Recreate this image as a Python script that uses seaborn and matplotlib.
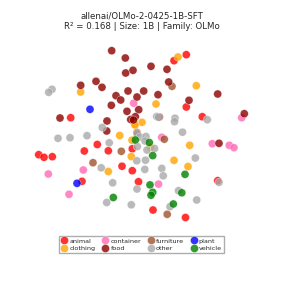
import matplotlib
matplotlib.use("Agg")
import matplotlib.pyplot as plt
import numpy as np
import pandas as pd
import seaborn as sns

sns.set_style("white")

# Embedding coordinates, one list per category
animal_x = [186.3, 174, 186.3, 202.3, 70.7, 97.3, 84.3, 108.3, 132.3, 38.7, 44, 52.3, 122, 132.3, 82, 138.5, 153, 185.5, 217.7]
animal_y = [54.7, 60.7, 107, 116.7, 117.7, 144.5, 151, 150.8, 148.8, 154.7, 157.3, 156.7, 166.2, 170.7, 181.3, 181.7, 210, 217.5, 180.7]

clothing_x = [178, 196.3, 80.7, 156, 142, 134.7, 119.7, 135, 132, 189.7, 131.3, 174, 188, 108.3, 150.5]
clothing_y = [57, 85.7, 92, 104, 122.3, 124.2, 135.5, 125, 140.2, 145.3, 156.5, 160.3, 166.5, 171.5, 147.3]

container_x = [133.7, 161.7, 212.3, 229.3, 234, 241.7, 83.3, 48.3, 69, 158.5]
container_y = [103.2, 137.3, 143.7, 145.3, 147.7, 117.7, 170, 174, 194.3, 184.1]

furniture_x = [172, 164.3, 121.3, 93, 167.2, 137]
furniture_y = [86.3, 139.2, 151.3, 162.7, 214.3, 132.5]

food_x = [111.7, 125.3, 151, 167, 125.7, 133, 80.7, 96, 102, 168.7, 217.7, 158, 128, 143.7, 116, 120.7,
          137, 111.3, 189, 127, 138.7, 135.3, 130.7, 107, 106.7, 60, 244.3, 219, 159.3, 133.5]
food_y = [50.7, 58, 66.3, 69.3, 73, 70.3, 85.3, 81.3, 87.3, 82, 94, 94.7, 91, 91, 95.7, 100,
          97, 105.3, 100.3, 111.3, 109.7, 116.7, 119.5, 121, 131, 118, 113.7, 143.3, 117, 120]

other_x = [52, 48.7, 156.7, 158.5, 175, 174.5, 207.3, 102.3, 182.5, 58, 70, 87, 109.2, 137, 140, 146, 145,
           137.3, 147, 154.5, 195.3, 136.8, 145.5, 101.2, 144.8, 161.8, 163.2, 112.7, 137, 178.5, 106.7,
           131.3, 170, 196.7, 219]
other_y = [89.3, 92.3, 116.5, 117.2, 118.2, 121.7, 119.7, 127.5, 132.2, 138.3, 137.7, 135.7, 142.8, 133.5, 137, 136.5, 141,
           146.5, 150, 148.5, 158, 160.8, 160.2, 167.8, 169.4, 168.4, 175.8, 182.8, 189, 190.7, 202.5,
           204.8, 206.7, 200, 182.3]

plant_x = [90, 77]
plant_y = [109.3, 183.3]

vehicle_x = [135.3, 149.3, 152.7, 185, 150, 152.7, 151, 181.8, 113.3, 173.3]
vehicle_y = [140, 142.5, 155.6, 174.3, 184.9, 192.3, 195.2, 192.8, 197.5, 204]

categories = ["animal", "clothing", "container", "furniture", "food", "other", "plant", "vehicle"]
colors = ["red", "orange", "hotpink", "sienna", "darkred", "darkgray", "blue", "green"]

xs = [animal_x, clothing_x, container_x, furniture_x, food_x, other_x, plant_x, vehicle_x]
ys = [animal_y, clothing_y, container_y, furniture_y, food_y, other_y, plant_y, vehicle_y]

frames = []
for cat, x, y in zip(categories, xs, ys):
    frames.append(pd.DataFrame({"x": x, "y": y, "category": cat}))
df = pd.concat(frames, ignore_index=True)

# legend goes alphabetically, column by column
legend_order = ["animal", "clothing", "container", "food", "furniture", "other", "plant", "vehicle"]
palette = dict(zip(categories, colors))

fig = plt.figure(figsize=(2.83, 2.83), dpi=100)
ax = fig.add_axes([0, 0, 1, 1])
sns.scatterplot(data=df, x="x", y="y", hue="category", hue_order=legend_order,
                palette=palette, s=34, alpha=0.8, edgecolor="white", linewidth=0.3,
                ax=ax, legend=True)
ax.set_xlim(0, 283)
ax.set_ylim(283, 0)
ax.axis("off")

fig.text(0.5, 1 - 21.5 / 283, "allenai/OLMo-2-0425-1B-SFT\nR² = 0.168 | Size: 1B | Family: OLMo",
         ha="center", va="center", fontsize=6.2, linespacing=1.2)

handles, labels = ax.get_legend_handles_labels()
ax.legend(handles, labels, loc="lower center", bbox_to_anchor=(0.5, 0.093), ncol=4,
          fontsize=4.6, frameon=True, fancybox=False, edgecolor="#999999",
          handlelength=1.0, handletextpad=0.3, columnspacing=1.0, borderpad=0.4,
          labelspacing=0.3, markerscale=1.0)

fig.savefig("out.png", dpi=100)
